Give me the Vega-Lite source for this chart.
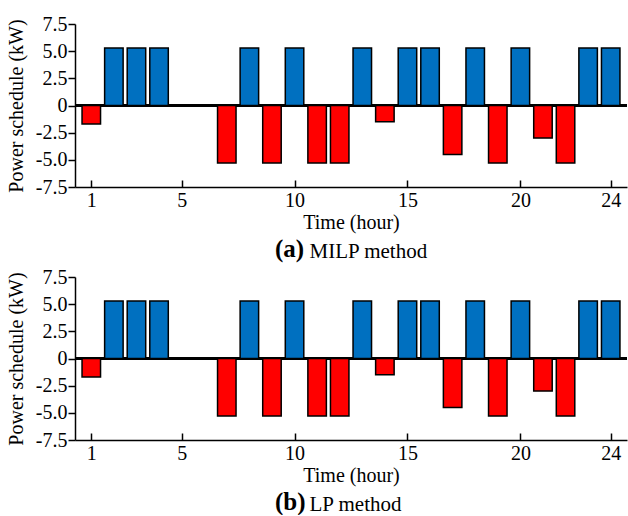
{
  "$schema": "https://vega.github.io/schema/vega-lite/v6.json",
  "autosize": {"type": "pad"},
  "padding": {"left": 6, "top": 14, "right": 0, "bottom": 0},
  "background": "white",
  "spacing": 90,
  "bounds": "flush",
  "config": {
    "view": {"stroke": null},
    "font": "Liberation Serif",
    "axis": {
      "labelFont": "Liberation Serif",
      "titleFont": "Liberation Serif",
      "labelFontSize": 20,
      "titleFontSize": 20,
      "titleFontWeight": "normal",
      "labelColor": "black",
      "titleColor": "black",
      "domainColor": "black",
      "tickColor": "black",
      "domainWidth": 1.5,
      "tickWidth": 1.5,
      "labelOverlap": false,
      "grid": false
    },
    "title": {"font": "Liberation Serif", "color": "black"}
  },
  "datasets": {
    "milp": [
      {"hour": 1, "power": -1.7}, {"hour": 2, "power": 5.3}, {"hour": 3, "power": 5.3}, {"hour": 4, "power": 5.3},
      {"hour": 5, "power": 0}, {"hour": 6, "power": 0}, {"hour": 7, "power": -5.3}, {"hour": 8, "power": 5.3},
      {"hour": 9, "power": -5.3}, {"hour": 10, "power": 5.3}, {"hour": 11, "power": -5.3}, {"hour": 12, "power": -5.3},
      {"hour": 13, "power": 5.3}, {"hour": 14, "power": -1.5}, {"hour": 15, "power": 5.3}, {"hour": 16, "power": 5.3},
      {"hour": 17, "power": -4.5}, {"hour": 18, "power": 5.3}, {"hour": 19, "power": -5.3}, {"hour": 20, "power": 5.3},
      {"hour": 21, "power": -3.0}, {"hour": 22, "power": -5.3}, {"hour": 23, "power": 5.3}, {"hour": 24, "power": 5.3}
    ],
    "lp": [
      {"hour": 1, "power": -1.7}, {"hour": 2, "power": 5.3}, {"hour": 3, "power": 5.3}, {"hour": 4, "power": 5.3},
      {"hour": 5, "power": 0}, {"hour": 6, "power": 0}, {"hour": 7, "power": -5.3}, {"hour": 8, "power": 5.3},
      {"hour": 9, "power": -5.3}, {"hour": 10, "power": 5.3}, {"hour": 11, "power": -5.3}, {"hour": 12, "power": -5.3},
      {"hour": 13, "power": 5.3}, {"hour": 14, "power": -1.5}, {"hour": 15, "power": 5.3}, {"hour": 16, "power": 5.3},
      {"hour": 17, "power": -4.5}, {"hour": 18, "power": 5.3}, {"hour": 19, "power": -5.3}, {"hour": 20, "power": 5.3},
      {"hour": 21, "power": -3.0}, {"hour": 22, "power": -5.3}, {"hour": 23, "power": 5.3}, {"hour": 24, "power": 5.3}
    ]
  },
  "vconcat": [
    {
      "width": 552,
      "height": 163,
      "data": {"name": "milp"},
      "title": {
        "text": "(a)",
        "orient": "bottom",
        "anchor": "start",
        "frame": "group",
        "dx": 200,
        "offset": -24,
        "fontSize": 25,
        "fontWeight": "bold"
      },
      "resolve": {"scale": {"y": "independent"}},
      "layer": [
        {
          "mark": {"type": "rule", "color": "black", "strokeWidth": 1.5},
          "encoding": {
            "y": {
              "datum": 0, "type": "quantitative",
              "scale": {"domain": [-7.5, 7.5], "nice": false},
              "axis": {
                "orient": "right", "domain": false, "ticks": false, "labels": false, "grid": false,
                "title": "MILP method", "titleAngle": 0, "titleAlign": "left", "titleBaseline": "alphabetic",
                "titleFontSize": 21,
                "titleX": -318, "titleY": 233
              }
            }
          }
        },
        {
          "mark": {"type": "bar", "size": 18.5, "stroke": "black", "strokeWidth": 1.5},
          "encoding": {
            "x": {
              "field": "hour", "type": "quantitative",
              "scale": {"domain": [0.5, 24.5], "nice": false, "zero": false},
              "axis": {"title": "Time (hour)", "values": [1, 5, 10, 15, 20, 24], "tickSize": -7, "labelPadding": 10, "titlePadding": 2}
            },
            "y": {
              "field": "power", "type": "quantitative",
              "scale": {"domain": [-7.5, 7.5], "nice": false},
              "axis": {
                "orient": "left",
                "title": "Power schedule (kW)",
                "values": [-7.5, -5, -2.5, 0, 2.5, 5, 7.5],
                "labelOverlap": false,
                "tickSize": 7,
                "labelPadding": 1,
                "titlePadding": 9,
                "labelExpr": "datum.value == 0 ? '0' : (datum.value < 0 ? '-' + format(-datum.value, '.1f') : format(datum.value, '.1f'))"
              }
            },
            "fill": {"condition": {"test": "datum.power > 0", "value": "#0070C0"}, "value": "#FF0000"}
          }
        }
      ]
    },
    {
      "width": 552,
      "height": 163,
      "data": {"name": "lp"},
      "title": {
        "text": "(b)",
        "orient": "bottom",
        "anchor": "start",
        "frame": "group",
        "dx": 200,
        "offset": -24,
        "fontSize": 25,
        "fontWeight": "bold"
      },
      "resolve": {"scale": {"y": "independent"}},
      "layer": [
        {
          "mark": {"type": "rule", "color": "black", "strokeWidth": 1.5},
          "encoding": {
            "y": {
              "datum": 0, "type": "quantitative",
              "scale": {"domain": [-7.5, 7.5], "nice": false},
              "axis": {
                "orient": "right", "domain": false, "ticks": false, "labels": false, "grid": false,
                "title": "LP method", "titleAngle": 0, "titleAlign": "left", "titleBaseline": "alphabetic",
                "titleFontSize": 21,
                "titleX": -318, "titleY": 233
              }
            }
          }
        },
        {
          "mark": {"type": "bar", "size": 18.5, "stroke": "black", "strokeWidth": 1.5},
          "encoding": {
            "x": {
              "field": "hour", "type": "quantitative",
              "scale": {"domain": [0.5, 24.5], "nice": false, "zero": false},
              "axis": {"title": "Time (hour)", "values": [1, 5, 10, 15, 20, 24], "tickSize": -7, "labelPadding": 10, "titlePadding": 2}
            },
            "y": {
              "field": "power", "type": "quantitative",
              "scale": {"domain": [-7.5, 7.5], "nice": false},
              "axis": {
                "orient": "left",
                "title": "Power schedule (kW)",
                "values": [-7.5, -5, -2.5, 0, 2.5, 5, 7.5],
                "labelOverlap": false,
                "tickSize": 7,
                "labelPadding": 1,
                "titlePadding": 9,
                "labelExpr": "datum.value == 0 ? '0' : (datum.value < 0 ? '-' + format(-datum.value, '.1f') : format(datum.value, '.1f'))"
              }
            },
            "fill": {"condition": {"test": "datum.power > 0", "value": "#0070C0"}, "value": "#FF0000"}
          }
        }
      ]
    }
  ]
}
